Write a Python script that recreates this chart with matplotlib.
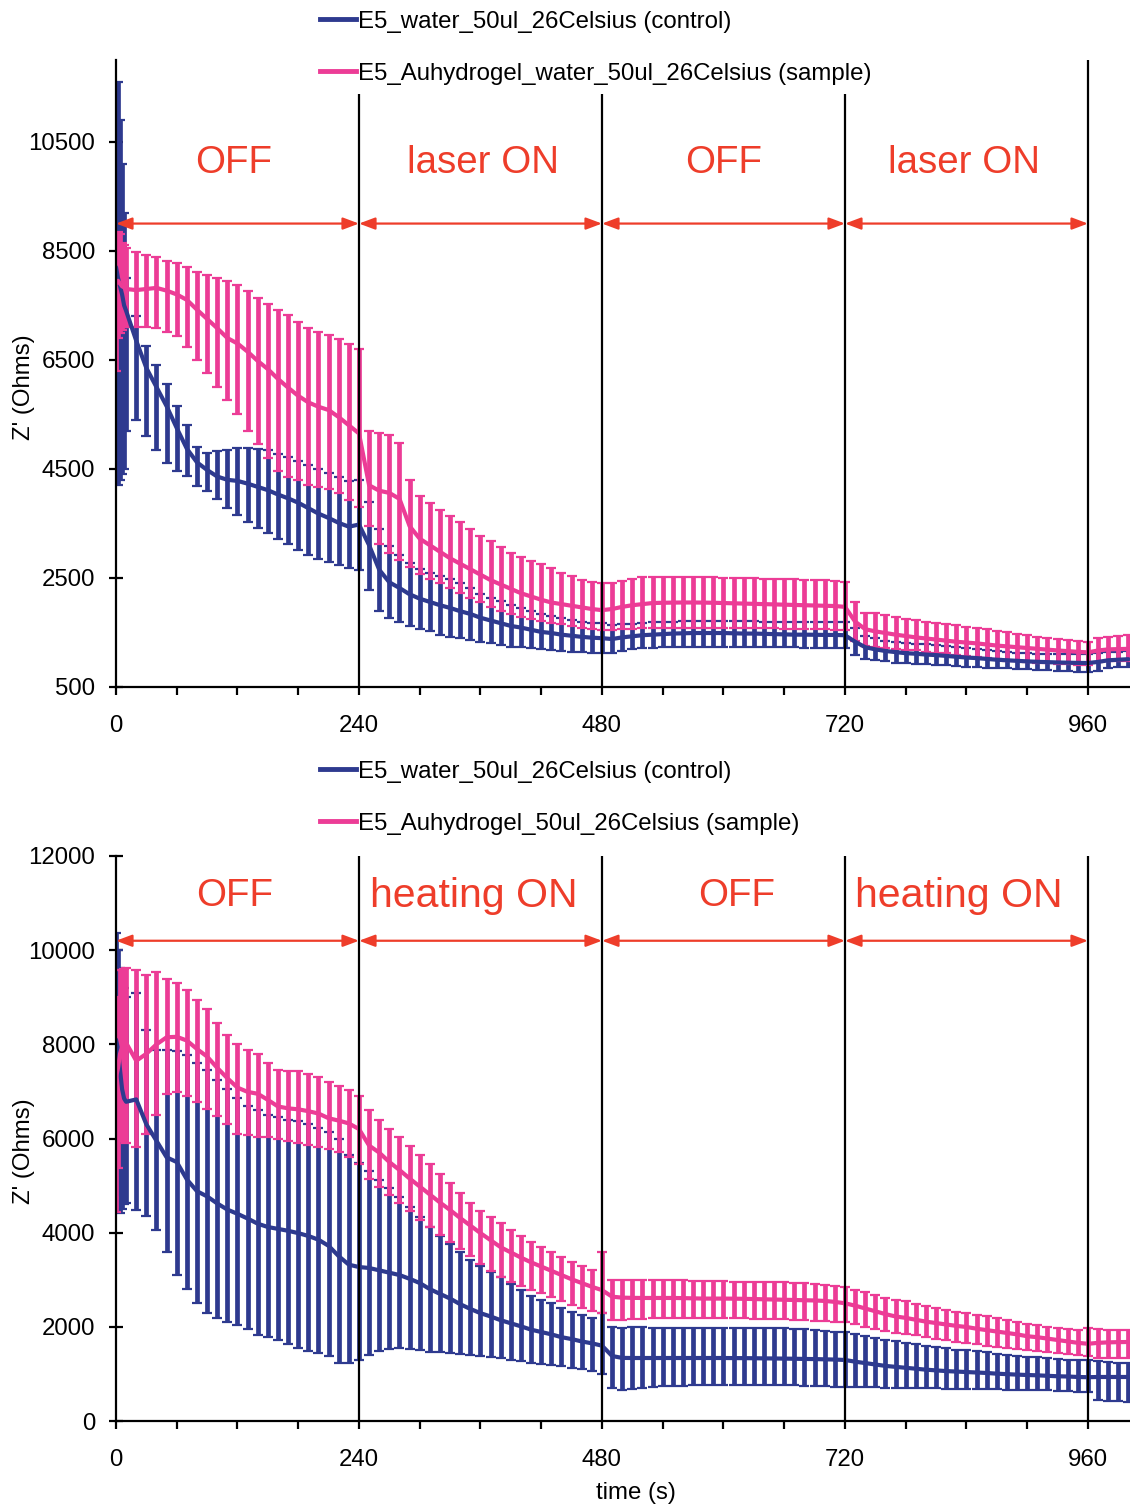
import matplotlib
matplotlib.use("Agg")
import matplotlib.pyplot as plt
from matplotlib.lines import Line2D

plt.rcParams['font.family'] = ['Liberation Sans', 'DejaVu Sans']

# ---------------- data ----------------
T = [0, 2, 4, 6, 8] + list(range(10, 1001, 10))

# top panel (laser), control (water)
top_ctrl_mean = [8200, 8000, 7850, 7700, 7500,
    7400, 6850, 6350, 6000, 5650, 5250, 4870, 4620, 4480, 4360,
    4300, 4280, 4230, 4170, 4110, 4030, 3960, 3880, 3780, 3680,
    3600, 3510, 3440, 3480, 3100, 2650, 2420, 2316, 2200, 2120,
    2060, 2000, 1950, 1890, 1840, 1770, 1720, 1670, 1620, 1590,
    1550, 1510, 1490, 1460, 1440, 1420, 1405, 1395, 1380, 1410,
    1430, 1450, 1460, 1470, 1480, 1485, 1490, 1490, 1490, 1490,
    1485, 1480, 1480, 1475, 1470, 1465, 1460, 1460, 1458, 1455,
    1455, 1450, 1330, 1230, 1190, 1160, 1140, 1120, 1110, 1095,
    1085, 1070, 1055, 1040, 1030, 1015, 1000, 990, 980, 970,
    962, 956, 950, 946, 942, 940, 960, 990, 1000, 1010]
top_ctrl_lo = [4300, 4200, 4300, 4400, 4500,
    5200, 5390, 5100, 4850, 4600, 4470, 4370, 4180, 4100, 3950,
    3780, 3650, 3530, 3420, 3320, 3220, 3120, 3020, 2930, 2850,
    2790, 2730, 2680, 2640, 2280, 1900, 1760, 1700, 1620, 1570,
    1520, 1460, 1417, 1390, 1360, 1330, 1300, 1270, 1240, 1225,
    1210, 1190, 1180, 1160, 1150, 1140, 1130, 1120, 1130, 1160,
    1190, 1210, 1220, 1225, 1230, 1232, 1235, 1235, 1235, 1235,
    1233, 1232, 1230, 1230, 1228, 1226, 1225, 1224, 1222, 1220,
    1218, 1215, 1080, 1020, 990, 970, 945, 935, 925, 915,
    905, 895, 885, 870, 862, 855, 848, 842, 836, 830,
    820, 810, 800, 790, 780, 775, 800, 840, 860, 870]
top_ctrl_hi = [9500, 11600, 10900, 10100, 9200,
    8000, 7300, 6750, 6400, 6050, 5650, 5300, 4900, 4800, 4830,
    4850, 4880, 4880, 4870, 4850, 4780, 4720, 4650, 4570, 4500,
    4430, 4350, 4280, 4300, 3900, 3400, 3080, 2930, 2780, 2670,
    2600, 2540, 2480, 2400, 2320, 2210, 2140, 2070, 2000, 1950,
    1890, 1830, 1800, 1760, 1730, 1700, 1680, 1670, 1630, 1650,
    1660, 1680, 1690, 1695, 1700, 1705, 1708, 1708, 1708, 1708,
    1705, 1703, 1702, 1700, 1698, 1696, 1695, 1694, 1693, 1692,
    1690, 1688, 1580, 1440, 1390, 1350, 1320, 1305, 1295, 1280,
    1265, 1250, 1235, 1220, 1205, 1185, 1160, 1145, 1130, 1115,
    1110, 1105, 1100, 1100, 1100, 1100, 1120, 1140, 1150, 1160]

# top panel, sample (Au hydrogel)
top_samp_mean = [7900, 7950, 7900, 7850, 7830,
    7800, 7780, 7800, 7820, 7770, 7700, 7600, 7420, 7250, 7080,
    6900, 6800, 6650, 6480, 6330, 6150, 5990, 5840, 5720, 5640,
    5580, 5450, 5300, 5150, 4200, 4100, 4060, 3950, 3450, 3220,
    3100, 2980, 2860, 2760, 2660, 2560, 2460, 2380, 2300, 2220,
    2160, 2100, 2050, 2020, 1990, 1960, 1930, 1910, 1930, 1970,
    2000, 2020, 2040, 2045, 2048, 2050, 2050, 2048, 2045, 2040,
    2035, 2030, 2025, 2020, 2015, 2010, 2005, 2000, 1995, 1990,
    1985, 1970, 1700, 1560, 1520, 1490, 1460, 1435, 1410, 1390,
    1370, 1350, 1330, 1315, 1300, 1280, 1260, 1245, 1230, 1215,
    1200, 1185, 1170, 1158, 1145, 1135, 1170, 1190, 1195, 1200]
top_samp_lo = [6300, 6900, 7000, 7050, 7100,
    7100, 7106, 7100, 7090, 7020, 6930, 6740, 6500, 6250, 6000,
    5760, 5500, 5200, 4950, 4700, 4470, 4360, 4290, 4200, 4160,
    4140, 4050, 3930, 3800, 3450, 3120, 2960, 2830, 2700, 2570,
    2480, 2400, 2310, 2230, 2140, 2060, 1968, 1900, 1840, 1790,
    1750, 1710, 1674, 1650, 1620, 1590, 1565, 1546, 1550, 1560,
    1570, 1578, 1583, 1585, 1585, 1585, 1585, 1585, 1584, 1583,
    1582, 1580, 1578, 1576, 1574, 1572, 1570, 1566, 1562, 1558,
    1552, 1546, 1350, 1260, 1240, 1220, 1200, 1185, 1170, 1150,
    1130, 1115, 1090, 1070, 1050, 1030, 1005, 985, 968, 955,
    945, 935, 925, 915, 908, 903, 950, 970, 980, 985]
top_samp_hi = [8200, 8850, 8800, 8650, 8600,
    8550, 8470, 8430, 8380, 8320, 8280, 8200, 8120, 8060, 8000,
    7940, 7880, 7760, 7640, 7530, 7420, 7320, 7200, 7090, 7020,
    6950, 6880, 6800, 6700, 5200, 5150, 5120, 4980, 4300, 4000,
    3870, 3740, 3640, 3520, 3390, 3270, 3170, 3060, 2960, 2880,
    2820, 2750, 2680, 2600, 2530, 2470, 2430, 2400, 2410, 2450,
    2490, 2510, 2518, 2520, 2520, 2518, 2515, 2512, 2510, 2508,
    2505, 2500, 2495, 2490, 2485, 2480, 2475, 2470, 2465, 2460,
    2450, 2430, 2050, 1860, 1860, 1820, 1780, 1750, 1720, 1700,
    1680, 1650, 1630, 1600, 1580, 1555, 1530, 1500, 1470, 1450,
    1420, 1400, 1380, 1360, 1340, 1320, 1390, 1420, 1440, 1450]

# bottom panel (heating), control (water)
bot_ctrl_mean = [8100, 7900, 7450, 7050, 6850,
    6780, 6830, 6300, 5950, 5600, 5500, 5130, 4880, 4770, 4620,
    4490, 4400, 4300, 4190, 4120, 4080, 4040, 3990, 3930, 3850,
    3720, 3500, 3320, 3270, 3250, 3200, 3150, 3100, 3020, 2930,
    2800, 2700, 2600, 2480, 2380, 2290, 2220, 2140, 2075, 2010,
    1940, 1890, 1840, 1780, 1740, 1690, 1650, 1600, 1380, 1340,
    1338, 1338, 1338, 1338, 1338, 1338, 1338, 1338, 1338, 1338,
    1336, 1335, 1333, 1330, 1328, 1325, 1322, 1318, 1315, 1310,
    1305, 1296, 1260, 1230, 1200, 1170, 1150, 1130, 1110, 1090,
    1075, 1060, 1050, 1040, 1030, 1020, 1005, 995, 985, 977,
    970, 960, 950, 945, 935, 930, 935, 935, 935, 935]
bot_ctrl_lo = [5700, 4800, 4420, 4500, 4600,
    4630, 4480, 4350, 4050, 3600, 3100, 2800, 2500, 2300, 2190,
    2100, 2040, 1950, 1830, 1780, 1720, 1630, 1550, 1480, 1440,
    1380, 1240, 1230, 1290, 1400, 1480, 1530, 1550, 1530, 1500,
    1470, 1455, 1440, 1420, 1400, 1380, 1360, 1338, 1300, 1270,
    1240, 1210, 1190, 1160, 1130, 1100, 1070, 1000, 700, 660,
    690, 710, 722, 735, 745, 752, 758, 762, 765, 765,
    765, 765, 765, 765, 763, 760, 755, 750, 740, 735,
    730, 722, 718, 715, 712, 708, 705, 702, 700, 697,
    694, 690, 686, 682, 678, 674, 670, 666, 662, 658,
    654, 648, 640, 630, 620, 610, 445, 430, 415, 404]
bot_ctrl_hi = [10365, 10000, 9620, 9600, 9200,
    9000, 9100, 8300, 7880, 7880, 7850, 7780, 7600, 7450, 7250,
    7050, 6850, 6700, 6600, 6500, 6450, 6400, 6380, 6300, 6220,
    6140, 6000, 5650, 5480, 5300, 5120, 4950, 4760, 4550, 4330,
    4110, 3930, 3760, 3590, 3430, 3300, 3170, 3050, 2910, 2780,
    2650, 2570, 2500, 2400, 2320, 2250, 2190, 2300, 1990, 1980,
    1990, 1990, 1985, 1980, 1975, 1970, 1970, 1975, 1980, 1985,
    1985, 1985, 1983, 1980, 1975, 1970, 1960, 1945, 1930, 1915,
    1900, 1880, 1840, 1800, 1760, 1720, 1690, 1660, 1630, 1600,
    1570, 1540, 1515, 1500, 1480, 1460, 1430, 1410, 1390, 1360,
    1350, 1330, 1315, 1300, 1296, 1290, 1270, 1260, 1240, 1232]

# bottom panel, sample (Au hydrogel)
bot_samp_mean = [7300, 7500, 7800, 7950, 8000,
    8030, 7650, 7800, 8000, 8150, 8160, 8080, 7900, 7740, 7500,
    7280, 7080, 6990, 6950, 6820, 6680, 6640, 6620, 6580, 6530,
    6430, 6380, 6320, 6200, 5850, 5700, 5500, 5330, 5150, 4980,
    4810, 4640, 4480, 4310, 4150, 3990, 3840, 3690, 3580, 3470,
    3370, 3280, 3190, 3100, 3010, 2930, 2850, 2780, 2640, 2620,
    2615, 2613, 2613, 2613, 2613, 2610, 2605, 2600, 2600, 2600,
    2598, 2595, 2590, 2585, 2580, 2575, 2570, 2565, 2560, 2550,
    2530, 2500, 2450, 2390, 2330, 2270, 2220, 2190, 2150, 2110,
    2080, 2050, 2020, 1997, 1960, 1930, 1900, 1870, 1840, 1800,
    1780, 1750, 1720, 1690, 1660, 1640, 1660, 1670, 1675, 1678]
bot_samp_lo = [4440, 5370, 5950, 5950, 5950,
    5900, 5820, 6100, 6500, 6950, 6990, 6900, 6780, 6620, 6470,
    6310, 6100, 6080, 6030, 6030, 5990, 5950, 5900, 5870, 5830,
    5770, 5710, 5600, 5460, 5150, 4980, 4800, 4630, 4450, 4270,
    4110, 3950, 3800, 3660, 3510, 3340, 3190, 3050, 2960, 2870,
    2790, 2720, 2640, 2550, 2470, 2400, 2340, 2290, 2145, 2145,
    2160, 2170, 2180, 2188, 2188, 2188, 2188, 2188, 2188, 2188,
    2185, 2180, 2175, 2170, 2165, 2160, 2150, 2140, 2130, 2120,
    2110, 2100, 2050, 2000, 1960, 1910, 1875, 1850, 1820, 1780,
    1745, 1710, 1680, 1657, 1630, 1600, 1580, 1560, 1535, 1510,
    1490, 1460, 1440, 1420, 1400, 1390, 1340, 1340, 1340, 1338]
bot_samp_hi = [8450, 9000, 9580, 9580, 9600,
    9620, 9580, 9470, 9537, 9380, 9310, 9150, 8950, 8760, 8450,
    8200, 8000, 7880, 7800, 7600, 7450, 7430, 7440, 7380, 7300,
    7200, 7120, 7040, 6900, 6600, 6400, 6200, 6030, 5840, 5650,
    5460, 5250, 5050, 4850, 4630, 4470, 4330, 4200, 4060, 3930,
    3800, 3690, 3590, 3480, 3380, 3290, 3210, 3600, 3000, 2995,
    2995, 2995, 2995, 2995, 2990, 2985, 2980, 2975, 2970, 2965,
    2962, 2960, 2958, 2955, 2952, 2948, 2940, 2930, 2915, 2895,
    2870, 2846, 2790, 2730, 2670, 2620, 2575, 2540, 2490, 2440,
    2400, 2360, 2320, 2294, 2250, 2220, 2180, 2140, 2100, 2050,
    2030, 2000, 1975, 1955, 1935, 1980, 1950, 1940, 1935, 1933]

top_labels = ["E5_water_50ul_26Celsius (control)",
              "E5_Auhydrogel_water_50ul_26Celsius (sample)"]
bot_labels = ["E5_water_50ul_26Celsius (control)",
              "E5_Auhydrogel_50ul_26Celsius (sample)"]
top_phases = ["OFF", "laser ON", "OFF", "laser ON"]
bot_phases = ["OFF", "heating ON", "OFF", "heating ON"]
phase_bounds = [0, 240, 480, 720, 960]
top_yticks = [500, 2500, 4500, 6500, 8500, 10500]
bot_yticks = [0, 2000, 4000, 6000, 8000, 10000, 12000]
xticks = [0, 240, 480, 720, 960]

# ---------------- style ----------------
BLUE = '#2E3A8F'
PINK = '#EC3C96'
RED = '#EE3D2A'
FS = 17.3
W, H = 1130, 1507

fig = plt.figure(figsize=(W / 100, H / 100), dpi=100)

def px_axes(left, top, right, bottom):
    return fig.add_axes([left / W, 1 - bottom / H, (right - left) / W, (bottom - top) / H])

ax1 = px_axes(116, 60, 1130, 687)
ax2 = px_axes(116, 856, 1130, 1421)

def draw_series(ax, mean, lo, hi, color, zb, zl):
    err = [[m - l for m, l in zip(mean, lo)], [h - m for m, h in zip(mean, hi)]]
    ax.errorbar(T, mean, yerr=err, fmt='none', ecolor=color, elinewidth=3.4,
                capsize=3.8, capthick=1.6, zorder=zb)
    ax.plot(T, mean, color=color, lw=3.0, zorder=zl, solid_capstyle='round')

def style_axes(ax, ylim, yticks):
    ax.set_xlim(0, 1001.5)
    ax.set_ylim(*ylim)
    ax.set_xticks(xticks)
    ax.set_xticks([v for v in range(60, 1000, 60) if v not in xticks], minor=True)
    ax.set_yticks(yticks)
    for s in ['top', 'right']:
        ax.spines[s].set_visible(False)
    for s in ['left', 'bottom']:
        ax.spines[s].set_linewidth(1.6)
        ax.spines[s].set_zorder(10)
    ax.tick_params(axis='x', which='both', direction='out', length=6, width=1.6,
                   labelsize=FS, pad=14)
    ax.tick_params(axis='y', direction='inout', length=10, width=1.6,
                   labelsize=FS, pad=10)

def annotate_phases(ax, phases, y_arrow):
    for b in phase_bounds[1:]:
        ax.axvline(b, color='black', lw=1.6, zorder=6)
    for i in range(len(phases)):
        a, b = phase_bounds[i], phase_bounds[i + 1]
        ax.annotate('', xy=(b, y_arrow), xytext=(a, y_arrow),
                    arrowprops=dict(arrowstyle='<|-|>,head_length=0.8,head_width=0.3',
                                    color=RED, lw=1.6, shrinkA=0, shrinkB=0,
                                    mutation_scale=12), zorder=7)

# top panel
draw_series(ax1, top_ctrl_mean, top_ctrl_lo, top_ctrl_hi, BLUE, 2, 4)
draw_series(ax1, top_samp_mean, top_samp_lo, top_samp_hi, PINK, 3, 5)
style_axes(ax1, (500, 12000), top_yticks)
annotate_phases(ax1, top_phases, 9000)
for name, cx in zip(top_phases, [116, 362, 600, 838]):
    ax1.text(cx, 10120, name, color=RED, fontsize=27.7, ha='center', va='center')

# bottom panel
draw_series(ax2, bot_ctrl_mean, bot_ctrl_lo, bot_ctrl_hi, BLUE, 2, 4)
draw_series(ax2, bot_samp_mean, bot_samp_lo, bot_samp_hi, PINK, 3, 5)
style_axes(ax2, (0, 12000), bot_yticks)
annotate_phases(ax2, bot_phases, 10200)
for name, cx, fs in zip(bot_phases, [117.5, 353, 613, 832], [27.7, 29.5, 27.7, 29.5]):
    ax2.text(cx, 11160, name, color=RED, fontsize=fs, ha='center', va='center')

# axis labels
fig.text(24 / W, 1 - 387 / H, "Z' (Ohms)", rotation=90, ha='center', va='center', fontsize=FS)
fig.text(24 / W, 1 - 1151 / H, "Z' (Ohms)", rotation=90, ha='center', va='center', fontsize=FS)
fig.text(636 / W, 1 - 1493 / H, "time (s)", ha='center', va='center', fontsize=FS)

# legends
def add_legend(ax, labels, top_px):
    handles = [Line2D([0], [0], color=BLUE, lw=3.5), Line2D([0], [0], color=PINK, lw=3.5)]
    leg = ax.legend(handles, labels, loc='upper left',
                    bbox_to_anchor=(310 / W, 1 - top_px / H), bbox_transform=fig.transFigure,
                    fontsize=FS, frameon=True, facecolor='white', edgecolor='none',
                    framealpha=1.0, fancybox=False, borderpad=0.4, labelspacing=1.25,
                    handlelength=1.5, handletextpad=0.08, borderaxespad=0)
    leg.set_zorder(20)
    return leg

add_legend(ax1, top_labels, 1)
add_legend(ax2, bot_labels, 751)

fig.savefig('out.png', dpi=100)
